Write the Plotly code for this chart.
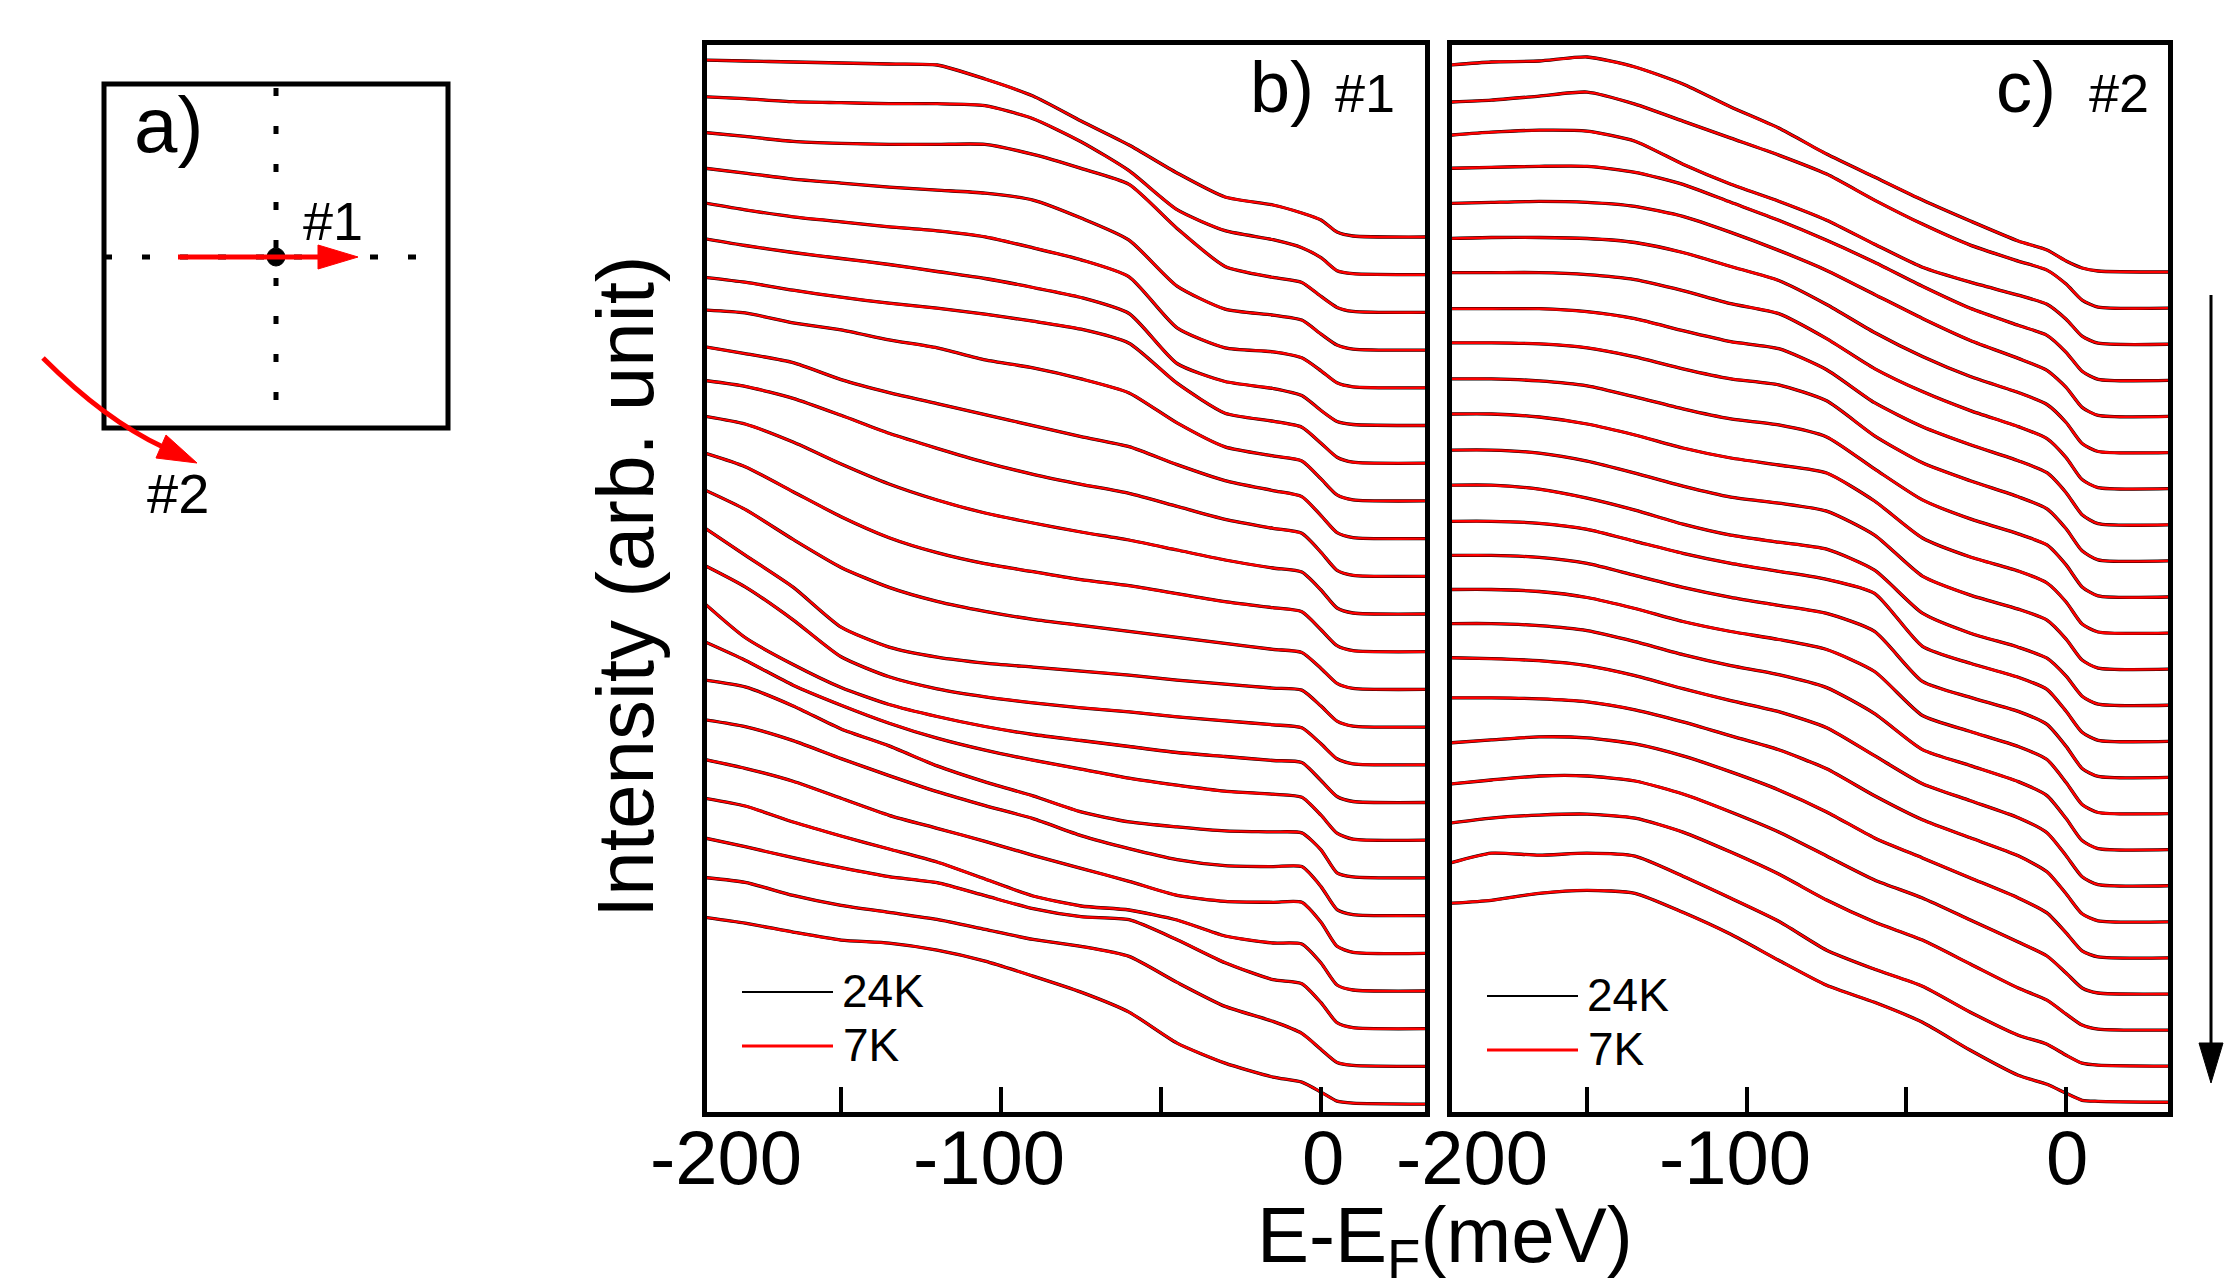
import plotly.graph_objects as go

W, H = 2238, 1288
FONT = "Liberation Sans, Arial, sans-serif"

# ---------------- data ----------------
# energy grid (meV), E - E_F
ENERGY = [-193, -180, -165, -150, -135, -120, -105, -90, -75, -60, -45, -30, -15, -6, 0, 5, 10, 33]

# panel b) cut #1, EDCs from top to bottom (arb. unit, above each curve's own baseline)
B01 = [177, 176, 175, 174, 173, 172, 158, 141, 116, 92, 64, 40, 32, 24, 17, 5, 1, 0]
B02 = [178, 176, 173, 172, 171, 171, 169, 156, 133, 104, 65, 44, 35, 27, 17, 4, 1, 0]
B03 = [180, 176, 171, 169, 168, 168, 168, 158, 144, 128, 84, 46, 35, 30, 16, 5, 1, 0]
B04 = [182, 177, 171, 167, 163, 160, 157, 150, 132, 110, 64, 41, 35, 30, 16, 5, 1, 0]
B05 = [185, 178, 171, 166, 161, 157, 151, 140, 128, 111, 60, 40, 36, 30, 17, 5, 1, 0]
B06 = [187, 180, 173, 167, 161, 154, 147, 138, 128, 112, 62, 44, 37, 30, 15, 4, 1, 0]
B07 = [186, 181, 173, 166, 160, 155, 149, 142, 134, 120, 80, 50, 42, 36, 20, 6, 1, 0]
B08 = [191, 188, 178, 171, 161, 153, 141, 133, 122, 108, 78, 54, 45, 40, 22, 6, 1, 0]
B09 = [192, 185, 176, 159, 146, 135, 124, 113, 102, 92, 74, 58, 48, 42, 23, 6, 1, 0]
B10 = [196, 190, 178, 161, 143, 128, 114, 102, 92, 83, 70, 57, 48, 43, 24, 6, 1, 0]
B11 = [198, 190, 172, 150, 130, 114, 101, 91, 82, 74, 64, 54, 46, 42, 24, 6, 1, 0]
B12 = [199, 185, 160, 135, 114, 99, 88, 80, 72, 66, 58, 50, 44, 40, 22, 6, 1, 0]
B13 = [200, 180, 150, 122, 102, 88, 78, 70, 64, 58, 52, 46, 40, 37, 21, 6, 1, 0]
B14 = [200, 172, 140, 100, 80, 70, 64, 60, 56, 52, 47, 43, 39, 37, 21, 6, 1, 0]
B15 = [200, 178, 145, 108, 88, 76, 68, 62, 57, 53, 48, 44, 40, 37, 21, 6, 1, 0]
B16 = [200, 165, 138, 115, 98, 86, 76, 68, 62, 56, 50, 46, 42, 40, 22, 6, 1, 0]
B17 = [199, 180, 155, 135, 117, 102, 90, 80, 71, 62, 55, 49, 46, 43, 25, 7, 1, 0]
B18 = [198, 191, 172, 149, 132, 112, 96, 82, 66, 56, 51, 47, 46, 45, 28, 5, 1, 0]
B19 = [196, 189, 175, 157, 140, 124, 110, 97, 80, 67, 56, 50, 49, 49, 29, 6, 1, 0]
B20 = [194, 185, 172, 155, 138, 125, 112, 98, 85, 72, 58, 52, 51, 51, 31, 7, 1, 0]
B21 = [193, 185, 169, 155, 142, 129, 112, 95, 85, 81, 71, 55, 48, 47, 28, 6, 1, 0]
B22 = [191, 182, 171, 161, 152, 146, 133, 120, 112, 109, 89, 66, 49, 45, 26, 6, 1, 0]
B23 = [189, 184, 171, 161, 154, 147, 137, 127, 120, 110, 84, 60, 45, 33, 17, 4, 1, 0]
B24 = [187, 181, 172, 164, 161, 154, 143, 128, 112, 92, 61, 41, 27, 22, 12, 3, 1, 0]

# panel c) cut #2, EDCs from top to bottom
C01 = [207, 210, 211, 215, 205, 188, 165, 144, 118, 95, 72, 51, 31, 22, 11, 4, 1, 0]
C02 = [206, 208, 212, 216, 204, 187, 170, 153, 134, 108, 84, 63, 47, 38, 24, 8, 1, 0]
C03 = [209, 212, 214, 213, 203, 180, 160, 143, 124, 100, 77, 62, 49, 40, 25, 8, 1, 0]
C04 = [212, 213, 214, 214, 208, 196, 178, 160, 140, 118, 94, 72, 55, 45, 28, 9, 1, 0]
C05 = [213, 214, 215, 214, 210, 200, 184, 166, 146, 122, 98, 76, 58, 46, 29, 9, 1, 0]
C06 = [214, 215, 215, 214, 210, 200, 186, 172, 148, 120, 96, 76, 60, 48, 30, 9, 1, 0]
C07 = [216, 216, 216, 214, 209, 198, 185, 175, 150, 120, 97, 78, 62, 50, 31, 9, 1, 0]
C08 = [216, 216, 216, 213, 206, 194, 183, 176, 155, 122, 98, 80, 64, 52, 32, 10, 1, 0]
C09 = [218, 218, 217, 213, 204, 192, 182, 176, 160, 125, 98, 80, 64, 52, 32, 10, 1, 0]
C10 = [218, 218, 216, 211, 200, 188, 178, 172, 160, 128, 97, 78, 63, 52, 32, 10, 1, 0]
C11 = [219, 219, 216, 209, 198, 185, 175, 168, 160, 132, 95, 76, 62, 50, 31, 9, 1, 0]
C12 = [219, 219, 216, 208, 196, 183, 172, 166, 158, 134, 93, 74, 60, 49, 30, 9, 1, 0]
C13 = [220, 220, 216, 207, 195, 181, 170, 163, 156, 135, 92, 72, 58, 47, 29, 9, 1, 0]
C14 = [220, 220, 218, 212, 200, 188, 178, 170, 162, 148, 95, 78, 64, 52, 30, 9, 1, 0]
C15 = [222, 222, 220, 214, 202, 190, 180, 172, 164, 146, 96, 80, 66, 53, 31, 9, 1, 0]
C16 = [224, 224, 222, 216, 205, 192, 182, 174, 164, 142, 98, 82, 67, 54, 31, 9, 1, 0]
C17 = [226, 226, 224, 219, 208, 195, 184, 175, 162, 136, 100, 84, 68, 54, 31, 9, 1, 0]
C18 = [228, 227, 225, 220, 210, 197, 185, 174, 158, 130, 102, 85, 68, 53, 30, 9, 1, 0]
C19 = [224, 224, 223, 220, 212, 200, 186, 172, 153, 126, 102, 84, 66, 50, 28, 8, 1, 0]
C20 = [215, 218, 221, 220, 214, 202, 186, 168, 146, 120, 100, 80, 60, 45, 25, 7, 1, 0]
C21 = [210, 214, 218, 218, 213, 200, 182, 162, 138, 114, 96, 74, 52, 38, 21, 6, 1, 0]
C22 = [207, 212, 215, 216, 212, 198, 178, 156, 130, 108, 90, 66, 42, 30, 16, 5, 1, 0]
C23 = [203, 213, 211, 213, 210, 190, 168, 145, 116, 97, 80, 54, 31, 22, 11, 3, 1, 0]
C24 = [199, 202, 209, 212, 209, 190, 168, 142, 117, 100, 80, 52, 27, 18, 9, 2, 1, 0]

PANEL_B = [B01, B02, B03, B04, B05, B06, B07, B08, B09, B10, B11, B12,
           B13, B14, B15, B16, B17, B18, B19, B20, B21, B22, B23, B24]
PANEL_C = [C01, C02, C03, C04, C05, C06, C07, C08, C09, C10, C11, C12,
           C13, C14, C15, C16, C17, C18, C19, C20, C21, C22, C23, C24]

# waterfall stacking (baseline of top curve, spacing between curves)
B_TOP, B_STEP = 875.0, 37.7
C_TOP, C_STEP = 840.0, 36.1

TEMPS = ["24K", "7K"]
X_TICKS = [-150, -100, -50, 0]
X_LABELS = ["-200", "-100", "0"]

# ---------------- figure ----------------
def px(x):
    return x / W


def py(y):
    return 1 - y / H


fig = go.Figure()

panels = [(PANEL_B, B_TOP, B_STEP, "x", "y"), (PANEL_C, C_TOP, C_STEP, "x2", "y2")]
for curves, top, step, xa, ya in panels:
    for k, vals in enumerate(curves):
        off = top - step * k
        yy = [off + v for v in vals]
        fig.add_trace(go.Scatter(x=ENERGY, y=yy, mode="lines", xaxis=xa, yaxis=ya,
                                 line=dict(color="black", width=3.3, shape="spline", smoothing=0.6),
                                 name=TEMPS[0], showlegend=False, hoverinfo="skip"))
        fig.add_trace(go.Scatter(x=ENERGY, y=yy, mode="lines", xaxis=xa, yaxis=ya,
                                 line=dict(color="#ff0000", width=2.4, shape="spline", smoothing=0.6),
                                 name=TEMPS[1], showlegend=False, hoverinfo="skip"))

ax_common = dict(showline=True, linewidth=5, linecolor="black", mirror=True,
                 showgrid=False, zeroline=False)
xa_common = dict(ax_common, ticks="inside", ticklen=25, tickwidth=4, tickcolor="black",
                 tickvals=X_TICKS, showticklabels=False)
ya_common = dict(ax_common, ticks="", showticklabels=False, range=[0, 1067],
                 domain=[py(1112), py(45)])

fig.update_layout(
    width=W, height=H,
    margin=dict(l=0, r=0, t=0, b=0),
    paper_bgcolor="white", plot_bgcolor="rgba(0,0,0,0)",
    showlegend=False,
    xaxis=dict(xa_common, domain=[px(707), px(1425)], range=[-191.9, 32.5], anchor="y"),
    yaxis=dict(ya_common, anchor="x"),
    xaxis2=dict(xa_common, domain=[px(1452), px(2168)], range=[-192.3, 31.9], anchor="y2"),
    yaxis2=dict(ya_common, anchor="x2"),
)

shapes = []
ann = []


def text(x, y, s, size, xanchor="center", yanchor="middle", angle=0):
    ann.append(dict(x=px(x), y=py(y), xref="paper", yref="paper", text=s, showarrow=False,
                    xanchor=xanchor, yanchor=yanchor, textangle=angle,
                    font=dict(family=FONT, size=size, color="black")))


# ---- panel a) schematic ----
shapes.append(dict(type="rect", xref="paper", yref="paper", x0=px(104), x1=px(448), y0=py(84), y1=py(428),
                   line=dict(color="black", width=5)))
shapes.append(dict(type="line", xref="paper", yref="paper", x0=px(276), x1=px(276), y0=py(88), y1=py(428),
                   line=dict(color="black", width=5, dash="8px,30px")))
shapes.append(dict(type="line", xref="paper", yref="paper", x0=px(104), x1=px(448), y0=py(257), y1=py(257),
                   line=dict(color="black", width=5, dash="8px,30px")))
shapes.append(dict(type="circle", xref="paper", yref="paper", x0=px(267), x1=px(285), y0=py(248), y1=py(266),
                   fillcolor="black", line=dict(color="black", width=1)))
shapes.append(dict(type="line", xref="paper", yref="paper", x0=px(178), x1=px(322), y0=py(257), y1=py(257),
                   line=dict(color="#ff0000", width=5)))
shapes.append(dict(type="path", xref="paper", yref="paper",
                   path=f"M{px(318)},{py(245)} L{px(358)},{py(257)} L{px(318)},{py(269)} Z",
                   fillcolor="#ff0000", line=dict(color="#ff0000", width=1)))
shapes.append(dict(type="path", xref="paper", yref="paper",
                   path=f"M{px(43)},{py(358)} Q{px(105)},{py(420)} {px(163)},{py(447)}",
                   line=dict(color="#ff0000", width=5)))
shapes.append(dict(type="path", xref="paper", yref="paper",
                   path=f"M{px(156)},{py(458)} L{px(197)},{py(463)} L{px(166)},{py(435)} Z",
                   fillcolor="#ff0000", line=dict(color="#ff0000", width=1)))
text(168, 125, "a)", 78)
text(333, 221, "#1", 54)
text(178, 493, "#2", 56)

# ---- panel titles ----
text(1282, 87, "b)", 72)
text(1365, 93, "#1", 54)
text(1994, 87, "c)", 72, xanchor="left")
text(2151, 93, "#2", 54, xanchor="right")

# ---- legends (drawn) ----
for dx, dy in [(0, 0), (745, 4)]:
    shapes.append(dict(type="line", xref="paper", yref="paper", x0=px(742 + dx), x1=px(833 + dx),
                       y0=py(992 + dy), y1=py(992 + dy), line=dict(color="black", width=2.2)))
    shapes.append(dict(type="line", xref="paper", yref="paper", x0=px(742 + dx), x1=px(833 + dx),
                       y0=py(1046 + dy), y1=py(1046 + dy), line=dict(color="#ff0000", width=3)))
    text(840 + dx, 991 + dy, TEMPS[0], 46, xanchor="left")
    text(841 + dx, 1045 + dy, TEMPS[1], 46, xanchor="left")

# ---- x tick labels and axis titles ----
for xs in [(726, 989, 1323), (1472, 1735, 2067)]:
    for xpos, lab in zip(xs, X_LABELS):
        text(xpos, 1157, lab, 76)
text(1445, 1240, "E-E<sub>F</sub>(meV)", 78)
text(625, 587, "Intensity (arb. unit)", 80, angle=-90)

# ---- arrow on the right ----
shapes.append(dict(type="line", xref="paper", yref="paper", x0=px(2211), x1=px(2211), y0=py(295), y1=py(1050),
                   line=dict(color="black", width=3)))
shapes.append(dict(type="path", xref="paper", yref="paper",
                   path=f"M{px(2199)},{py(1043)} L{px(2223)},{py(1043)} L{px(2211)},{py(1083)} Z",
                   fillcolor="black", line=dict(color="black", width=1)))

fig.update_layout(shapes=shapes, annotations=ann)
fig.write_html("out.html", config={"displayModeBar": False},
               post_script="document.body.style.margin='0';document.body.style.overflow='hidden';")
